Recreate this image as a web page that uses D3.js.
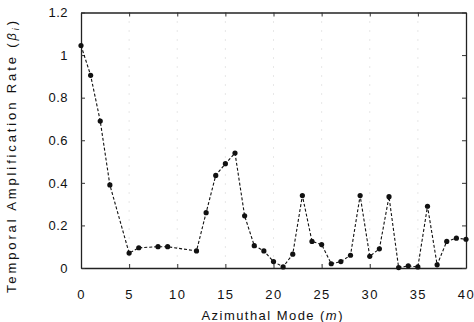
<!DOCTYPE html>
<html>
<head>
<meta charset="utf-8">
<script src="https://cdn.jsdelivr.net/npm/d3@7"></script>
<style>
  html, body { margin: 0; padding: 0; background: #fff; }
  svg { display: block; font-family: "Liberation Sans", Arial, Helvetica, sans-serif; }
</style>
</head>
<body>
<svg id="chart" width="474" height="322"></svg>
<script>
const modes = [0,1,2,3,5,6,8,9,12,13,14,15,16,17,18,19,20,21,22,23,24,25,26,27,28,29,30,31,32,33,34,35,36,37,38,39,40];
const beta  = [1.045,0.905,0.69,0.39,0.07,0.095,0.1,0.1,0.08,0.26,0.435,0.49,0.54,0.245,0.105,0.08,0.03,0.005,0.065,0.34,0.125,0.11,0.02,0.03,0.06,0.34,0.055,0.09,0.335,0.002,0.01,0.005,0.29,0.015,0.125,0.14,0.135];
const xTicks = [0,5,10,15,20,25,30,35,40];
const yTicks = [0,0.2,0.4,0.6,0.8,1,1.2];
const yTickLabels = ["0","0.2","0.4","0.6","0.8","1","1.2"];
const gridX = [5,10,15,20,25,30,35];

const svg = d3.select("#chart");
const L = 81, R = 466, T = 12.5, B = 268;
const x = d3.scaleLinear().domain([0,40]).range([L,R]);
const y = d3.scaleLinear().domain([0,1.2]).range([B,T]);

// faint dotted vertical grid
svg.append("g").selectAll("line").data(gridX).join("line")
  .attr("x1", d => x(d)).attr("x2", d => x(d))
  .attr("y1", T).attr("y2", B)
  .attr("stroke", "#c4c4c4").attr("stroke-width", 0.8)
  .attr("stroke-dasharray", "1,8");

// axes with inward ticks
const axB = svg.append("g").attr("transform", `translate(0,${B})`)
  .call(d3.axisBottom(x).tickValues(xTicks).tickSizeInner(-4).tickSizeOuter(0).tickPadding(22));
const axT = svg.append("g").attr("transform", `translate(0,${T})`)
  .call(d3.axisTop(x).tickValues(xTicks).tickSizeInner(-4).tickSizeOuter(0).tickFormat(""));
const axL = svg.append("g").attr("transform", `translate(${L},0)`)
  .call(d3.axisLeft(y).tickValues(yTicks).tickSizeInner(-4).tickSizeOuter(0).tickPadding(13)
    .tickFormat((d,i) => yTickLabels[i]));
const axR = svg.append("g").attr("transform", `translate(${R},0)`)
  .call(d3.axisRight(y).tickValues(yTicks).tickSizeInner(-4).tickSizeOuter(0).tickFormat(""));

[axB, axT, axL, axR].forEach(a => {
  a.select(".domain").attr("stroke", "#222").attr("stroke-width", 1.3);
  a.selectAll(".tick line").attr("stroke", "#333");
  a.selectAll("text").attr("font-size", 13).attr("fill", "#111")
    .attr("font-family", "'Liberation Sans', Arial, sans-serif");
});
axB.selectAll("text").attr("letter-spacing", 1.5);
axL.selectAll("text").attr("letter-spacing", 0.5);

// line
const line = d3.line().x((d,i) => x(modes[i])).y(d => y(d));
svg.append("path").datum(beta)
  .attr("d", line).attr("fill", "none")
  .attr("stroke", "#111").attr("stroke-width", 1.1)
  .attr("stroke-dasharray", "3,2");

// points
svg.append("g").selectAll("circle").data(beta).join("circle")
  .attr("cx", (d,i) => x(modes[i])).attr("cy", d => y(d))
  .attr("r", 2.6).attr("fill", "#111");

// x label
const xl = svg.append("text")
  .attr("x", 272).attr("y", 320)
  .attr("text-anchor", "middle").attr("font-size", 13).attr("fill", "#111")
  .attr("textLength", 141).attr("lengthAdjust", "spacing");
xl.append("tspan").text("Azimuthal Mode (");
xl.append("tspan").attr("font-style", "italic").text("m");
xl.append("tspan").text(")");

// y label
const yl = svg.append("text")
  .attr("transform", "translate(16,157) rotate(-90)")
  .attr("text-anchor", "middle").attr("font-size", 13).attr("fill", "#111")
  .attr("textLength", 272).attr("lengthAdjust", "spacing");
yl.append("tspan").text("Temporal Amplification Rate (");
yl.append("tspan").attr("font-style", "italic").text("β");
yl.append("tspan").attr("font-style", "italic").attr("font-size", 9).attr("dy", 3).text("i");
yl.append("tspan").attr("dy", -3).text(")");
</script>
</body>
</html>
